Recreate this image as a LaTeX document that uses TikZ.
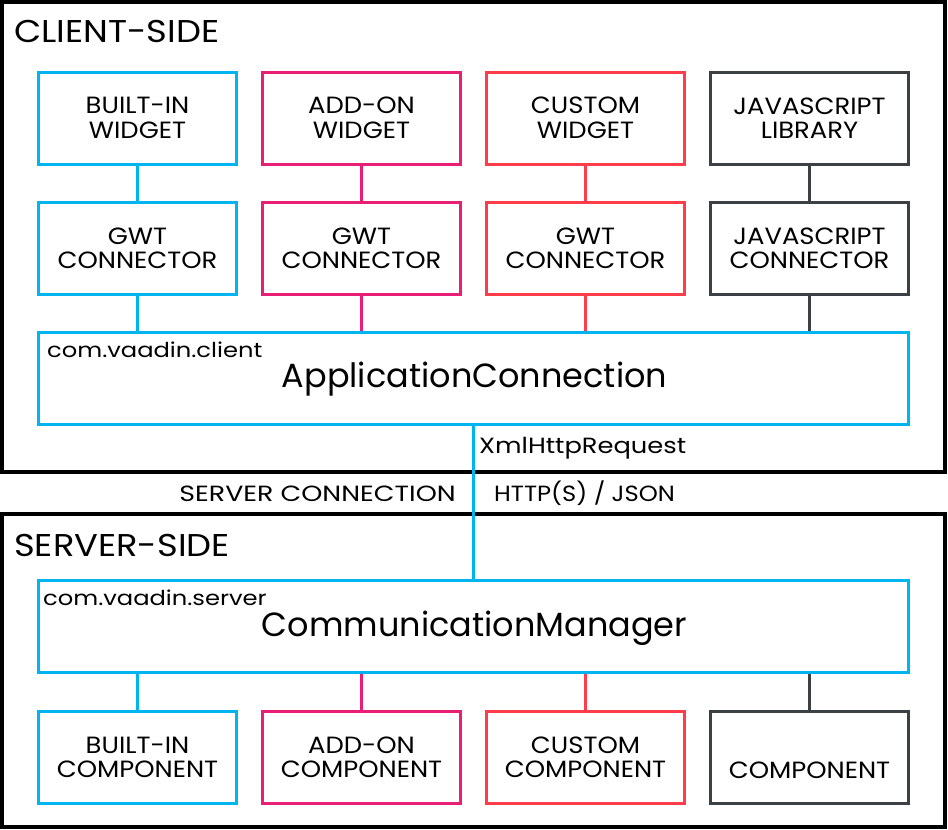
\documentclass[tikz,border=0pt]{standalone}
\usepackage{fontspec}
\setmainfont{Poppins}
\newfontfamily\boxfont{Poppins}[FakeStretch=1.10]
\newfontfamily\titlefont{Poppins}[FakeStretch=1.12]
\newfontfamily\pkgfont{Poppins}[FakeStretch=1.18]
\newfontfamily\lblfont{Poppins}[FakeStretch=1.17]
\newfontfamily\lblwidefont{Poppins}[FakeStretch=1.22]
\newfontfamily\lblnarrowfont{Poppins}[FakeStretch=1.10]
\definecolor{vblue}{HTML}{00B4F0}
\definecolor{vmag}{HTML}{E91E75}
\definecolor{vred}{HTML}{FF3D4A}
\definecolor{vdark}{HTML}{3B4044}
\begin{document}
\begin{tikzpicture}[x=1pt,y=-1pt,
  outerbox/.style={draw=black, line width=4pt, inner sep=0pt},
  cbox/.style={draw, line width=3pt, minimum width=198pt, minimum height=92pt, inner sep=0pt, align=center, text=black, font=\boxfont\fontsize{23.5}{24.5}\selectfont},
  widebox/.style={draw=vblue, line width=3pt, minimum width=870pt, minimum height=92pt, inner sep=0pt},
  link/.style={line width=3pt},
  lbl/.style={inner sep=0pt, anchor=base west, font=\lblfont\fontsize{22}{26}\selectfont},
  title/.style={inner sep=0pt, anchor=base west, font=\titlefont\fontsize{31.5}{36}\selectfont},
  pkg/.style={inner sep=0pt, anchor=base west, font=\pkgfont\fontsize{20.5}{24}\selectfont},
  big/.style={inner sep=0pt, anchor=base, font=\fontsize{33.5}{38}\selectfont}
]
\useasboundingbox (0,0) rectangle (948,830);
% outer frames
\node[outerbox, minimum width=943pt, minimum height=470pt] (client) at (473.5,237) {};
\node[outerbox, minimum width=943pt, minimum height=313pt] (server) at (473.5,670.5) {};
\node[title] (clienttitle) at (14,42) {CLIENT-SIDE};
\node[title] (servertitle) at (14,556) {SERVER-SIDE};
% top row
\node[cbox, draw=vblue] (w1) at (137.5,118) {BUILT-IN\\WIDGET};
\node[cbox, draw=vmag]  (w2) at (361.5,118) {ADD-ON\\WIDGET};
\node[cbox, draw=vred]  (w3) at (585.5,118) {CUSTOM\\WIDGET};
\node[cbox, draw=vdark] (w4) at (809.5,118) {JAVASCRIPT\\LIBRARY};
% connectors row
\node[cbox, draw=vblue] (g1) at (137.5,248.5) {GWT\\CONNECTOR};
\node[cbox, draw=vmag]  (g2) at (361.5,248.5) {GWT\\CONNECTOR};
\node[cbox, draw=vred]  (g3) at (585.5,248.5) {GWT\\CONNECTOR};
\node[cbox, draw=vdark] (g4) at (809.5,248.5) {JAVASCRIPT\\CONNECTOR};
% application connection
\node[widebox] (app) at (473.5,378) {};
\node[pkg] (appk) at (47,357) {com.vaadin.client};
\node[big] (appt) at (474.5,387.5) {ApplicationConnection};
% communication manager
\node[widebox] (comm) at (473.5,626.5) {};
\node[pkg] (commk) at (43,605) {com.vaadin.server};
\node[big] (commt) at (474.5,636.5) {CommunicationManager};
% bottom row
\node[cbox, draw=vblue] (c1) at (137.5,757.5) {BUILT-IN\\COMPONENT};
\node[cbox, draw=vmag]  (c2) at (361.5,757.5) {ADD-ON\\COMPONENT};
\node[cbox, draw=vred]  (c3) at (585.5,757.5) {CUSTOM\\COMPONENT};
\node[cbox, draw=vdark] (c4) at (809.5,757.5) {};
\node[inner sep=0pt, font=\boxfont\fontsize{23.5}{24.5}\selectfont] (c4t) at (809.5,770) {COMPONENT};
% links
\draw[link, vblue] (w1.south) -- (g1.north);
\draw[link, vmag]  (w2.south) -- (g2.north);
\draw[link, vred]  (w3.south) -- (g3.north);
\draw[link, vdark] (w4.south) -- (g4.north);
\draw[link, vblue] (g1.south) -- (g1.south |- app.north);
\draw[link, vmag]  (g2.south) -- (g2.south |- app.north);
\draw[link, vred]  (g3.south) -- (g3.south |- app.north);
\draw[link, vdark] (g4.south) -- (g4.south |- app.north);
\draw[link, vblue] (c1.north |- comm.south) -- (c1.north);
\draw[link, vmag]  (c2.north |- comm.south) -- (c2.north);
\draw[link, vred]  (c3.north |- comm.south) -- (c3.north);
\draw[link, vdark] (c4.north |- comm.south) -- (c4.north);
\draw[link, vblue] (app.south) -- (comm.north);
% protocol labels
\node[lbl] (xhr) at (479,453) {XmlHttpRequest};
\node[lbl, anchor=base east, font=\lblwidefont\fontsize{22}{26}\selectfont] (sc) at (456,501) {SERVER CONNECTION};
\node[lbl, font=\lblnarrowfont\fontsize{22}{26}\selectfont] (http) at (494,501) {HTTP(S) / JSON};
\end{tikzpicture}
\end{document}
